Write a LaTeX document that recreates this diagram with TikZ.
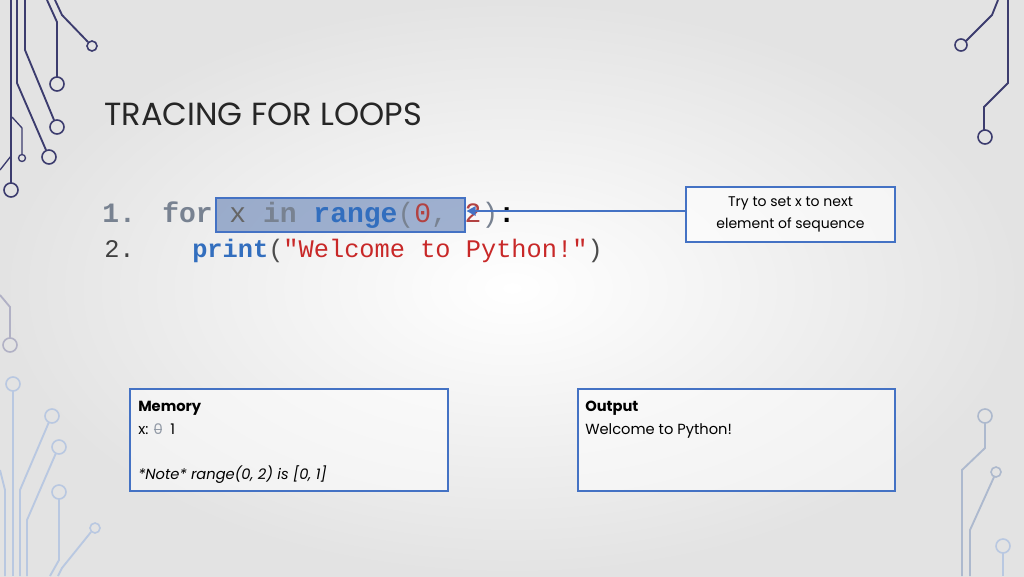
\documentclass[tikz,border=0pt]{standalone}
\usepackage{fontspec}
\setmainfont{Poppins}
\setmonofont{Liberation Mono}
\newcommand\mystrike[1]{\makebox[0pt][l]{#1}\rule[0.32em]{0.6em}{0.5pt}}
\usetikzlibrary{arrows.meta}
\definecolor{kblue}{RGB}{50,110,190}
\definecolor{kred}{RGB}{200,40,40}
\definecolor{kgray}{RGB}{120,130,145}
\definecolor{bord}{RGB}{68,114,196}
\definecolor{circ}{RGB}{60,60,110}
\definecolor{circl}{RGB}{185,200,225}
\tikzset{
  trace/.style={circ, line width=1.4pt},
  tracel/.style={circl, line width=1.4pt},
  pad/.style={draw=circ, line width=1.2pt, fill=none},
  padl/.style={draw=circl, line width=1.2pt, fill=none},
  infobox/.style={draw=bord, line width=1.5pt, fill=white, fill opacity=0.5, text opacity=1, anchor=north west, align=left, inner sep=0pt},
  txt/.style={anchor=base west, inner sep=0pt},
  codeA/.style={txt, font=\ttfamily\fontsize{21}{24}\selectfont},
  codeB/.style={txt, font=\ttfamily\fontsize{19}{22}\selectfont},
}
\begin{document}
\begin{tikzpicture}[x=0.75pt,y=-0.75pt]
\useasboundingbox (0,0) rectangle (1024,576);
\shade[inner color=white, outer color=black!11] (0,0) rectangle (1024,576);
% circuit traces top-left
\draw[trace] (11,0) -- (11,183); \draw[pad] (11,190) circle (7);
\draw[trace] (17,0) -- (17,83) -- (46,150); \draw[pad] (49,157) circle (7);
\draw[trace] (25,0) -- (25,50) -- (54,120); \draw[pad] (57,127) circle (7);
\draw[trace] (47,0) -- (57,22) -- (57,77); \draw[pad] (57,84) circle (7);
\draw[trace] (55,0) -- (62,15) -- (88,42); \draw[pad] (92,46) circle (5);
\draw[trace, line width=1pt] (12,117) -- (22,128) -- (22,154); \draw[pad, line width=1pt] (22,158) circle (3.5);
\draw[trace, line width=1pt] (0,170) -- (11,156);
% top-right
\draw[trace] (1008,0) -- (1008,83) -- (984,107) -- (984,130); \draw[pad] (985,137) circle (7);
\draw[trace] (998,0) -- (992,15) -- (966,41); \draw[pad] (961,45) circle (6);
% bottom-left
\draw[trace, circ!40] (0,295) -- (10,307) -- (10,338); \draw[pad, draw=circ!40] (10,345) circle (7);
\draw[tracel] (13,391) -- (13,576); \draw[padl] (13,384) circle (7);
\draw[tracel] (49,422) -- (20,490) -- (20,576); \draw[padl] (52,416) circle (7);
\draw[tracel] (56,453) -- (27,520) -- (27,576); \draw[padl] (59,447) circle (7);
\draw[tracel] (59,499) -- (59,560) -- (50,576); \draw[padl] (59,492) circle (7);
\draw[tracel] (91,532) -- (62,568) -- (58,576); \draw[padl] (95,528) circle (5);
\draw[tracel] (0,470) -- (5,490) -- (5,576);
% bottom-right
\draw[tracel, circl!80!gray] (985,423) -- (985,448) -- (962,470) -- (962,576); \draw[padl, draw=circl!80!gray] (985,416) circle (7);
\draw[tracel, circl!80!gray] (994,477) -- (970,530) -- (970,576); \draw[padl, draw=circl!80!gray] (996,472) circle (5);
\draw[tracel] (1003,553) -- (1003,576); \draw[padl] (1003,546) circle (7);
% title
\node[txt, font=\fontsize{24}{30}\selectfont, text=black!85] (title) at (104,125) {TRACING FOR LOOPS};
% highlight
\node[draw=bord, line width=1.8pt, fill=bord!70!gray, fill opacity=0.55, anchor=north west, minimum width=249*0.75pt, minimum height=34*0.75pt, inner sep=0pt] (hl) at (215,197) {};
% code
\node[codeA] (n1) at (102,222) {\textcolor{kgray}{\textbf{1.}}};
\node[codeA] (l1) at (162,222)
  {\textcolor{kgray}{\textbf{for}} \textcolor{black!60}{x} \textcolor{kgray}{\textbf{in}} \textcolor{kblue}{\textbf{range}}\textcolor{kgray}{(}\textcolor{kred!70!gray}{0}\textcolor{kgray}{, }\textcolor{kred!70!gray}{2}\textcolor{kgray}{)}\textbf{:}};
\node[codeB] (n2) at (104,257) {\textcolor{black!75}{2.}};
\node[codeB] (l2) at (192,257)
  {\textcolor{kblue}{\textbf{print}}\textcolor{black!70}{(}\textcolor{kred}{"Welcome to Python!"}\textcolor{black!70}{)}};
% callout
\node[draw=bord, line width=1.5pt, fill=white, fill opacity=0.6, text opacity=1, anchor=north west, minimum width=209*0.75pt, minimum height=55*0.75pt, align=center, font=\fontsize{10.5}{17}\selectfont, inner sep=0pt] (call) at (685,186) {Try to set x to next\\element of sequence};
\draw[bord, line width=1.8pt, -{Triangle[length=7pt,width=7pt]}] (call.west |- 0,211) -- (hl.east |- 0,211);
% boxes
\node[infobox, minimum width=318*0.75pt, minimum height=102*0.75pt] (mem) at (129,388) {};
\node[txt, font=\fontsize{11}{13}\selectfont] (memt) at (138,411) {\textbf{Memory}};
\node[txt, font=\fontsize{11}{13}\selectfont] (memx) at (138,434) {x: \textcolor{kgray!80}{\mystrike{0}}\ \ 1};
\node[txt, font=\fontsize{11}{13}\selectfont] (memn) at (138,479) {\textit{*Note* range(0, 2) is [0, 1]}};
\node[infobox, minimum width=317*0.75pt, minimum height=102*0.75pt] (out) at (577,388) {};
\node[txt, font=\fontsize{11}{13}\selectfont] (outt) at (585,411) {\textbf{Output}};
\node[txt, font=\fontsize{11}{13}\selectfont] (outw) at (585,434) {Welcome to Python!};
\end{tikzpicture}
\end{document}
